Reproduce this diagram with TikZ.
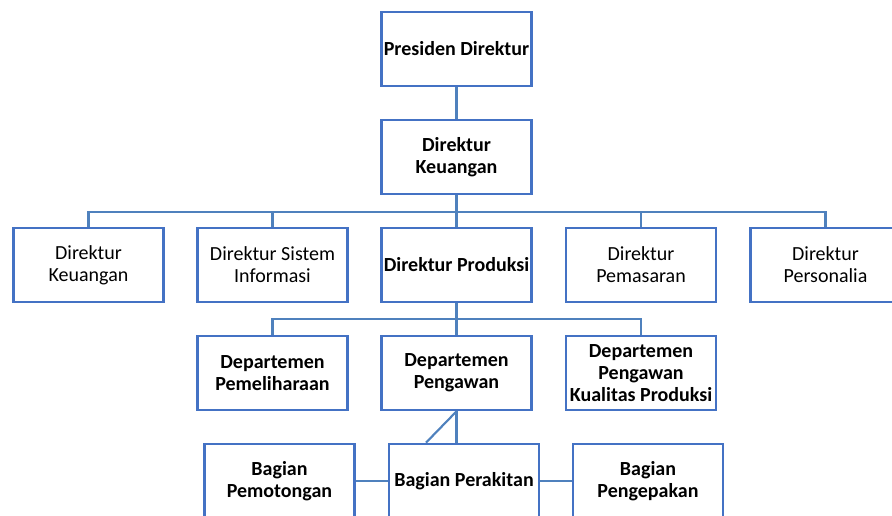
\documentclass[tikz,border=0pt]{standalone}
\usepackage{fontspec}
\setmainfont{Carlito}
\usepackage{tikz}
\usetikzlibrary{calc}

\definecolor{boxblue}{RGB}{68,114,196}
\definecolor{lineblue}{RGB}{79,129,189}

\begin{document}
\begin{tikzpicture}[x=0.75pt,y=0.75pt,yscale=-1,xscale=1,
  unit/.style={draw=boxblue,line width=2pt,fill=white,minimum width=112.5pt,minimum height=55.5pt,
    align=center,inner sep=1pt,font=\fontsize{15}{16.5}\selectfont},
  unitb/.style={unit,font=\fontsize{15}{16.5}\selectfont\bfseries},
  conn/.style={draw=lineblue,line width=1.6pt}]
%set diagram to the size of the reference
\useasboundingbox (0,0) rectangle (892,515);
\clip (0,0) rectangle (892,515);

% Top level
\node [unitb] (pres) at (456.5,49) {Presiden Direktur};
\node [unitb] (dkeu) at (456.5,157) {Direktur\\Keuangan};

% Direktur row
\node [unit] (dkeu2) at (88.5,265) {Direktur\\Keuangan};
\node [unit] (dsis) at (272.5,265) {Direktur Sistem\\Informasi};
\node [unitb] (dprod) at (456.5,265) {Direktur Produksi};
\node [unit] (dpas) at (641,265) {Direktur\\Pemasaran};
\node [unit] (dper) at (825.5,265) {Direktur\\Personalia};

% Departemen row
\node [unitb] (dpel) at (272.5,373) {Departemen\\Pemeliharaan};
\node [unitb] (dpeng) at (456.5,373) {Departemen\\Pengawan};
\node [unitb] (dkual) at (641,373) {Departemen\\Pengawan\\Kualitas Produksi};

% Bagian row
\node [unitb] (bpot) at (279.5,481) {Bagian\\Pemotongan};
\node [unitb] (bper) at (464,481) {Bagian Perakitan};
\node [unitb] (bpak) at (648,481) {Bagian\\Pengepakan};

%Straight Lines
\coordinate (bus2) at (456.5,212);
\coordinate (bus3) at (456.5,319);
\draw [conn] (pres) -- (dkeu);
\foreach \n in {dkeu2,dsis,dprod,dpas,dper}
  \draw [conn] (dkeu.south) -- (bus2) -| (\n.north);
\foreach \n in {dpel,dpeng,dkual}
  \draw [conn] (dprod.south) -- (bus3) -| (\n.north);
\draw [conn] (dpeng.south) -- (dpeng.south |- bper.north);
\draw [conn] (dpeng.south) -- ($(bper.north)+(-38,0)$);
\draw [conn] (bpot.east) -- (bper.west);
\draw [conn] (bper.east) -- (bpak.west);

\end{tikzpicture}
\end{document}
